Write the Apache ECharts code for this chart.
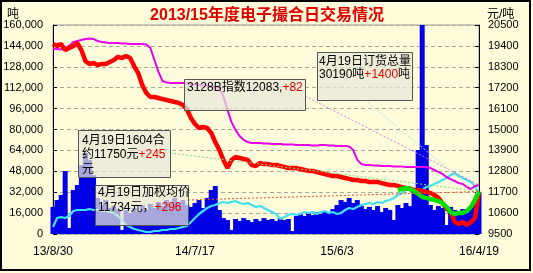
<!DOCTYPE html>
<html><head><meta charset="utf-8">
<script src="https://cdn.jsdelivr.net/npm/echarts@6/dist/echarts.min.js"></script>
<style>html,body{margin:0;padding:0;background:#FFFCDC;}#c{width:533px;height:273px;}</style>
</head><body><div id="c"></div>
<script>
// ---- data ----
const xTickLabels = ['13/8/30', '14/7/17', '15/6/3', '16/4/19'];
const xTickIndex = [0, 35, 70, 105];

// daily volume, tons (left axis)
const volume = [
  20700, 26000, 29900, 48200, 4600, 33700, 37500, 52800, 62000, 56600,
  45200, 27600, 22200, 26000, 19900, 21400, 18400, 3100, 18400, 16100,
  19900, 16800, 22200, 18400, 23000, 19900, 24500, 21400, 26000, 23000,
  27600, 23700, 26000, 22200, 20700, 23700, 26000, 19900, 27600, 33700,
  36700, 18400, 12200, 10700, 3100, 11500, 10000, 12200, 10700, 9200,
  11500, 10000, 12200, 10700, 11500, 10000, 12200, 10700, 11500, 2300,
  13800, 15300, 13800, 16100, 14500, 16800, 15300, 17600, 16100, 19100,
  22200, 26000, 24500, 27600, 23700, 26000, 21400, 19100, 20700, 18400,
  21400, 16800, 19900, 18400, 10700, 22200, 19900, 23700, 21400, 33700,
  64300, 160000, 68100, 22200, 18400, 21400, 19900, 6900, 20700, 18400,
  16800, 19100, 16100, 19900, 26000, 32200
];

// open interest 订货总量, tons (left axis)
const openInterest = [
  5360, 12250, 13010, 12250, 13780, 17610, 18370, 18370, 18370, 19140,
  18370, 18370, 17610, 17610, 16840, 16080, 13780, 10720, 6890, 5360,
  3830, 3060, 2300, 1530, 1530, 2300, 2300, 3060, 3060, 3830,
  3830, 4590, 5360, 6120, 9190, 12250, 15310, 17610, 19900, 21440,
  22200, 23730, 24500, 23730, 24500, 25260, 23730, 22970, 23730, 22200,
  20670, 21440, 19900, 18370, 16840, 15310, 11480, 13010, 14550, 15310,
  14550, 15310, 16840, 16080, 16840, 15310, 16840, 17610, 16080, 16840,
  15310, 16080, 18370, 19900, 19140, 20670, 22200, 22970, 23730, 22970,
  24500, 23730, 25260, 26030, 27560, 29860, 31390, 33680, 35980, 33680,
  32150, 33680, 35980, 36750, 38280, 39810, 41340, 42870, 45170, 46700,
  44400, 42870, 41340, 39810, 36750, 30190
];

// 3128B index, yuan/ton (right axis)
const indexPrice = [
  19240, 19240, 19210, 19290, 19400, 19610, 19660, 19710, 19760, 19790,
  19760, 19660, 19610, 19580, 19550, 19550, 19550, 19530, 19530, 19500,
  19500, 19500, 19500, 19470, 19290, 18660, 18030, 17550, 17470, 17450,
  17450, 17450, 17450, 17420, 17390, 17370, 17340, 17320, 17290, 17260,
  17240, 17180, 16760, 16030, 15390, 14970, 14660, 14450, 14340, 14290,
  14290, 14290, 14260, 14260, 14240, 14240, 14240, 14210, 14210, 14210,
  14180, 14180, 14180, 14180, 14160, 14160, 14180, 14180, 14160, 14160,
  14130, 14130, 14130, 14110, 13920, 13400, 13180, 13130, 13130, 13100,
  13100, 13080, 13080, 13080, 13050, 13050, 13050, 13030, 13030, 13030,
  13030, 13030, 13030, 12970, 12870, 12760, 12660, 12500, 12390, 12290,
  12180, 12130, 11970, 11870, 12030, 12083
];

// weighted average price 加权均价, yuan/ton (right axis)
const avgPrice = [
  19500, 19390, 19500, 19180, 19290, 19390, 19550, 19180, 18600, 18450,
  18500, 18390, 18450, 18450, 18550, 18660, 18820, 18760, 18870, 18760,
  18340, 17970, 17340, 16920, 16710, 16710, 16660, 16600, 16550, 16500,
  16450, 16400, 16290, 16080, 15600, 15290, 15080, 15130, 15080, 14820,
  14340, 13920, 13400, 12970, 13400, 13550, 13500, 13450, 13400, 13130,
  13080, 13240, 13180, 13180, 13130, 13130, 13080, 13030, 12970, 12970,
  12970, 12920, 12870, 12820, 12820, 12760, 12710, 12660, 12600, 12550,
  12550, 12500, 12450, 12400, 12340, 12340, 12290, 12290, 12240, 12240,
  12240, 12180, 12130, 12080, 12080, 12030, 11970, 11920, 11870, 11820,
  11820, 11760, 11710, 11660, 11550, 11400, 11130, 10820, 10660, 10130,
  10030, 10130, 9970, 10130, 10340, 11734
];

// 1604 contract price, yuan/ton (right axis), starts at category index c1604Start
const c1604Start = 85;
const c1604Values = [
  11820, 11870, 11920, 11870, 11760, 11610, 11450, 11400, 11340, 11290,
  11240, 11130, 10920, 10660, 10550, 10610, 10610, 10710, 10920, 11290, 11750
];

// daily changes shown in the annotation boxes: index, open interest, 1604, avg price
const dailyChange = [82, 1400, 245, 296];
const lastDay = '4月19日';

// ---- chart ----
const FONT = "'Liberation Sans','Noto Sans CJK SC',sans-serif";
const categories = volume.map((_, i) => i);
const contractData = categories.map(i => i < c1604Start ? null : c1604Values[i - c1604Start]);
const last = a => a[a.length - 1];

const chart = echarts.init(document.getElementById('c'), null, {renderer: 'canvas'});

function box(id, x, y, w, h, tx, ty, lh, text) {
  return [
    {type: 'rect', id: id + 'r', z: 100, shape: {x: x + 0.5, y: y + 0.5, width: w, height: h},
      style: {fill: 'rgba(232,232,216,0.72)', stroke: '#555', lineWidth: 1}},
    {type: 'text', id: id + 't', z: 101, x: tx, y: ty,
      style: {text: text, font: '12px ' + FONT, lineHeight: lh, fill: '#000',
        rich: {k: {fill: '#000', fontSize: 12, fontFamily: FONT, lineHeight: lh},
               r: {fill: '#e00000', fontSize: 12, fontFamily: FONT, lineHeight: lh}}}}
  ];
}

const graphics = [
  {type: 'rect', id: 'border', z: 200, shape: {x: 1, y: 1, width: 529, height: 269},
    style: {fill: 'none', stroke: '#000', lineWidth: 2}},
  {type: 'text', id: 'title', z: 120, x: 267, y: 16,
    style: {text: '2013/15年度电子撮合日交易情况', font: 'bold 16px ' + FONT, fill: '#e00000',
      textAlign: 'center', textVerticalAlign: 'middle'}},
  {type: 'text', id: 'lname', z: 120, x: 7, y: 9,
    style: {text: '吨', font: '12px ' + FONT, fill: '#000'}},
  {type: 'text', id: 'rname', z: 120, x: 487, y: 9,
    style: {text: '元/吨', font: '12px ' + FONT, fill: '#000'}},
  ...box('bA', 184, 79, 121, 31, 187, 81, 14,
    '{k|3128B指数' + last(indexPrice) + ',}{r|+' + dailyChange[0] + '}'),
  ...box('bB', 317, 52, 95, 48, 319, 55, 13,
    '{k|' + lastDay + '订货总量}\n{k|' + last(openInterest) + '吨}{r|+' + dailyChange[1] + '}{k|吨}'),
  ...box('bC', 78, 130, 92, 47, 82, 133, 14.5,
    '{k|' + lastDay + '1604合}\n{k|约' + last(c1604Values) + '元}{r|+' + dailyChange[2] + '}\n{k|元}'),
  ...box('bD', 95, 185, 93, 40, 98, 185.5, 15,
    '{k|' + lastDay + '加权均价}\n{k|' + last(avgPrice) + '元，}{r|+' + dailyChange[3] + '}')
];

const option = {
  animation: false,
  backgroundColor: '#FFFCDC',
  grid: {left: 53, right: 54, top: 25, bottom: 39, show: true, borderColor: '#999', borderWidth: 1,
    backgroundColor: 'transparent'},
  xAxis: {
    type: 'category', data: categories, boundaryGap: false,
    axisLine: {show: false}, axisTick: {show: false}, splitLine: {show: false},
    axisLabel: {
      interval: (i) => xTickIndex.includes(i),
      formatter: (v, i) => { const k = xTickIndex.indexOf(Number(v)); return k >= 0 ? xTickLabels[k] : ''; },
      color: '#000', fontSize: 12, fontFamily: FONT, margin: 12
    }
  },
  yAxis: [
    {type: 'value', position: 'left', min: 0, max: 160000, interval: 16000,
      axisLine: {show: true, lineStyle: {color: '#000'}},
      axisTick: {show: true, inside: true, length: 4, lineStyle: {color: '#000'}},
      axisLabel: {color: '#000', fontSize: 11, fontFamily: FONT, margin: 10},
      splitLine: {show: true, lineStyle: {color: '#aaa89a', type: [4, 3], width: 1}}},
    {type: 'value', position: 'right', min: 9500, max: 20500, interval: 1100,
      axisLine: {show: true, lineStyle: {color: '#000'}},
      axisTick: {show: true, inside: true, length: 4, lineStyle: {color: '#000'}},
      axisLabel: {color: '#000', fontSize: 11, fontFamily: FONT, margin: 9,
        formatter: v => String(Math.round(v))},
      splitLine: {show: false}}
  ],
  series: [
    {name: '成交量', type: 'bar', yAxisIndex: 0, data: volume, barWidth: 5, barGap: '-100%',
      itemStyle: {color: '#0000e6', borderWidth: 0}, z: 2, clip: true, large: false},
    {name: '订货总量', type: 'line', yAxisIndex: 0, data: openInterest, symbol: 'none',
      lineStyle: {color: '#40e0f0', width: 2.2}, z: 3},
    {name: '3128B指数', type: 'line', yAxisIndex: 1, data: indexPrice, symbol: 'none',
      lineStyle: {color: '#e800e8', width: 2}, z: 4},
    {name: '加权均价', type: 'line', yAxisIndex: 1, data: avgPrice, symbol: 'none',
      lineStyle: {color: '#ff0000', width: 4.5}, z: 5},
    {name: '1604合约', type: 'line', yAxisIndex: 1, data: contractData, symbol: 'none',
      lineStyle: {color: '#00e000', width: 4.5}, z: 6}
  ],
  graphic: graphics
};
chart.setOption(option);

// leader lines from the boxes to each series' last point
const li = categories.length - 1;
const pEnd = (axis, v) => chart.convertToPixel({xAxisIndex: 0, yAxisIndex: axis}, [li, v]);
const leaders = [
  {from: [305, 96], to: pEnd(1, last(indexPrice)), color: '#e878c8'},
  {from: [365, 100], to: pEnd(0, last(openInterest)), color: '#90e8e0'},
  {from: [170, 153], to: pEnd(1, last(c1604Values)), color: '#80d880'},
  {from: [188, 200], to: pEnd(1, last(avgPrice)), color: '#f05030'}
];
chart.setOption({graphic: leaders.map((l, k) => ({
  type: 'line', id: 'lead' + k, z: 90,
  shape: {x1: l.from[0], y1: l.from[1], x2: l.to[0], y2: l.to[1]},
  style: {stroke: l.color, lineWidth: 1, lineDash: [2, 2]}
}))});
</script></body></html>
